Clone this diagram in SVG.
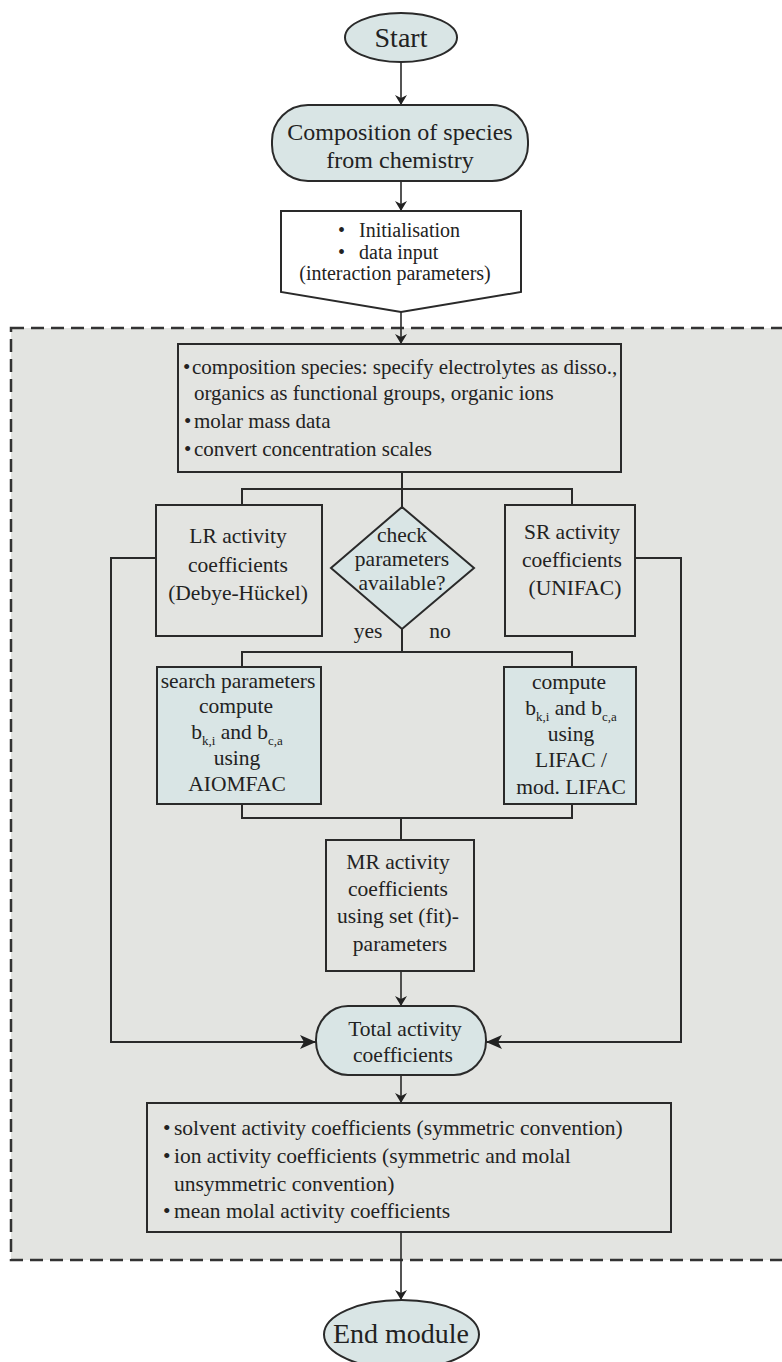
<svg xmlns="http://www.w3.org/2000/svg" width="782" height="1362" viewBox="0 0 782 1362">
<defs>
<style>
text{font-family:"Liberation Serif","Times New Roman",serif;fill:#222;}
.t20{font-size:20px;}
.t21{font-size:21.5px;}
.t21s{font-size:21px;}
.t24{font-size:24px;}
.t28{font-size:28px;}
.m{text-anchor:middle;}
.blue{fill:#d9e5e5;stroke:#2a2a2a;stroke-width:2;}
.gray{fill:#e3e4e1;stroke:#2a2a2a;stroke-width:2;}
.white{fill:#ffffff;stroke:#2a2a2a;stroke-width:2;}
.con{fill:none;stroke:#2a2a2a;stroke-width:2;}
.arr{fill:none;stroke:#2a2a2a;stroke-width:1.6;marker-end:url(#ah);}
.arrb{fill:none;stroke:#2a2a2a;stroke-width:2;marker-end:url(#ahb);}
.sub{font-size:13px;}
</style>
<marker id="ah" viewBox="0 0 10 16" refX="10" refY="8" markerWidth="10" markerHeight="16" orient="auto" markerUnits="userSpaceOnUse"><path d="M0,2 L10,8 L0,14 L3,8 Z" fill="#222"/></marker>
<marker id="ahb" viewBox="0 0 16 16" refX="16" refY="8" markerWidth="16" markerHeight="16" orient="auto" markerUnits="userSpaceOnUse"><path d="M0,1 L16,8 L0,15 L4,8 Z" fill="#222"/></marker>
</defs>
<rect x="0" y="0" width="782" height="1362" fill="#ffffff"/>
<g id="module-region">
<rect x="11" y="328" width="800" height="932" fill="#e3e4e1" stroke="#333" stroke-width="2.5" stroke-dasharray="13 7"/>
</g>
<g id="connectors">
<path class="arr" d="M401,62 V105"/>
<path class="arr" d="M401,181 V211"/>
<path class="arr" d="M401,312 V344"/>
<path class="con" d="M402,472 V507"/>
<path class="con" d="M242,505 V489 H572 V505"/>
<path class="con" d="M402,629 V652"/>
<path class="con" d="M242,667 V652 H572 V667"/>
<path class="con" d="M242,804 V818 H572 V804"/>
<path class="con" d="M401,818 V840"/>
<path class="arr" d="M401,971 V1006"/>
<path class="arrb" d="M156,558 H111 V1042 H316"/>
<path class="arrb" d="M635,558 H681 V1042 H486"/>
<path class="arr" d="M401,1075 V1103"/>
<path class="arr" d="M401,1232 V1300"/>
</g>
<g id="start">
<ellipse class="blue" cx="401" cy="37.5" rx="56" ry="24.5"/>
<text class="t28 m" x="401" y="47">Start</text>
</g>
<g id="composition">
<rect class="blue" x="272" y="105" width="256" height="76" rx="36" ry="36"/>
<text class="t24 m" x="400" y="140">Composition of species</text>
<text class="t24 m" x="400" y="168">from chemistry</text>
</g>
<g id="init">
<path class="white" d="M281,211 H521 V292 L401,312 L281,292 Z"/>
<text class="t20" x="338" y="237">•</text>
<text class="t20" x="359" y="237">Initialisation</text>
<text class="t20" x="338" y="259">•</text>
<text class="t20" x="359" y="259">data input</text>
<text class="t20 m" x="395" y="280">(interaction parameters)</text>
</g>
<g id="prep">
<rect class="gray" x="178" y="344" width="443" height="128"/>
<text class="t21s" x="183" y="374">•</text>
<text class="t21s" x="192" y="374">composition species: specify electrolytes as disso.,</text>
<text class="t21s" x="194" y="400">organics as functional groups, organic ions</text>
<text class="t21s" x="184" y="428">•</text>
<text class="t21s" x="194" y="428">molar mass data</text>
<text class="t21s" x="184" y="456">•</text>
<text class="t21s" x="194" y="456">convert concentration scales</text>
</g>
<g id="lr">
<rect class="gray" x="156" y="505" width="166" height="131"/>
<text class="t21 m" x="238" y="543">LR activity</text>
<text class="t21 m" x="238" y="572">coefficients</text>
<text class="t21 m" x="238" y="600">(Debye-Hückel)</text>
</g>
<g id="check">
<path class="blue" d="M402,507 L474,568 L402,629 L331,568 Z"/>
<text class="t21 m" x="402" y="542">check</text>
<text class="t21 m" x="402" y="566">parameters</text>
<text class="t21 m" x="402" y="590">available?</text>
<text class="t21 m" x="368" y="638">yes</text>
<text class="t21 m" x="440" y="638">no</text>
</g>
<g id="sr">
<rect class="gray" x="505" y="505" width="130" height="131"/>
<text class="t21 m" x="572" y="539">SR activity</text>
<text class="t21 m" x="572" y="567">coefficients</text>
<text class="t21 m" x="575" y="595">(UNIFAC)</text>
</g>
<g id="search">
<rect class="blue" x="157" y="667" width="164" height="137"/>
<text class="t21 m" x="238" y="688">search parameters</text>
<text class="t21 m" x="236" y="713">compute</text>
<text class="t21 m" x="237" y="739">b<tspan class="sub" dy="6">k,i</tspan><tspan dy="-6"> and b</tspan><tspan class="sub" dy="6">c,a</tspan></text>
<text class="t21 m" x="237" y="765">using</text>
<text class="t21 m" x="237" y="791">AIOMFAC</text>
</g>
<g id="compute">
<rect class="blue" x="504" y="667" width="132" height="137"/>
<text class="t21 m" x="569" y="689">compute</text>
<text class="t21 m" x="571" y="715">b<tspan class="sub" dy="6">k,i</tspan><tspan dy="-6"> and b</tspan><tspan class="sub" dy="6">c,a</tspan></text>
<text class="t21 m" x="571" y="741">using</text>
<text class="t21 m" x="571" y="767">LIFAC /</text>
<text class="t21 m" x="571" y="794">mod. LIFAC</text>
</g>
<g id="mr">
<rect class="gray" x="326" y="840" width="148" height="131"/>
<text class="t21 m" x="398" y="869">MR activity</text>
<text class="t21 m" x="398" y="896">coefficients</text>
<text class="t21 m" x="398" y="923">using set (fit)-</text>
<text class="t21 m" x="400" y="951">parameters</text>
</g>
<g id="total">
<rect class="blue" x="316" y="1006" width="170" height="69" rx="32" ry="34"/>
<text class="t21 m" x="405" y="1036">Total activity</text>
<text class="t21 m" x="403" y="1062">coefficients</text>
</g>
<g id="results">
<rect class="gray" x="147" y="1103" width="524" height="129"/>
<text class="t21" x="163" y="1135">•</text>
<text class="t21" x="174" y="1135">solvent activity coefficients (symmetric convention)</text>
<text class="t21" x="163" y="1163">•</text>
<text class="t21" x="174" y="1163">ion activity coefficients (symmetric and molal</text>
<text class="t21" x="174" y="1191">unsymmetric convention)</text>
<text class="t21" x="163" y="1218">•</text>
<text class="t21" x="174" y="1218">mean molal activity coefficients</text>
</g>
<g id="end">
<ellipse class="blue" cx="401.5" cy="1334.5" rx="77.5" ry="34.5"/>
<text class="t28 m" x="401" y="1343">End module</text>
</g>
</svg>
